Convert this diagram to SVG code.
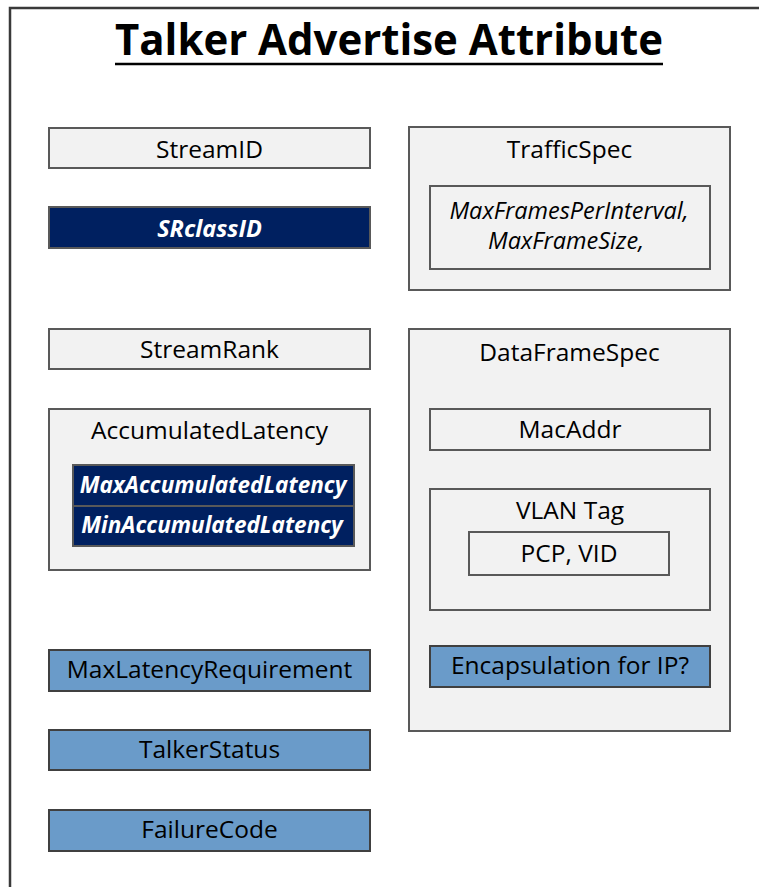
<svg xmlns="http://www.w3.org/2000/svg" width="759" height="887" viewBox="0 0 759 887">
<style>
.box{fill:#f2f2f2;stroke:#595959;stroke-width:2}
.inner{fill:#f2f2f2;stroke:#595959;stroke-width:2}
.navy{fill:#002060;stroke:#595959;stroke-width:2}
.blue{fill:#6a9bc9;stroke:#404040;stroke-width:2}
text{font-family:"Open Sans","Liberation Sans",sans-serif;font-size:24.5px;fill:#000;text-anchor:middle}
.it{font-style:italic;font-size:23.5px}
.bi{font-style:italic;font-weight:bold;fill:#fff;font-size:23.5px}
.bi.sm{font-size:22.5px}
.title{font-weight:bold;font-size:43px}
</style>
<rect width="759" height="887" fill="#fff"/>
<path d="M10,887 V8 H759" fill="none" stroke="#3a3a3a" stroke-width="2.5"/>
<g id="title"><text class="title" x="389" y="55" textLength="548" lengthAdjust="spacingAndGlyphs">Talker Advertise Attribute</text><line x1="115" y1="64" x2="663" y2="64" stroke="#000" stroke-width="2.5"/></g>
<g id="streamid"><rect class="box" x="49" y="128" width="321" height="40"/><text x="209.5" y="158">StreamID</text></g>
<g id="srclassid"><rect class="navy" x="49" y="207" width="321" height="41"/><text class="bi" x="209.5" y="237">SRclassID</text></g>
<g id="trafficspec"><rect class="box" x="409" y="127" width="321" height="163"/><text x="569.5" y="158">TrafficSpec</text>
<g id="trafficspec-params"><rect class="inner" x="430" y="186" width="280" height="83"/><text class="it" x="569" y="219">MaxFramesPerInterval,</text><text class="it" x="566" y="249">MaxFrameSize,</text></g></g>
<g id="streamrank"><rect class="box" x="49" y="329" width="321" height="40"/><text x="209.5" y="358">StreamRank</text></g>
<g id="accumulatedlatency"><rect class="box" x="49" y="409" width="321" height="161"/><text x="209.5" y="439">AccumulatedLatency</text>
<g id="maxacc"><rect class="navy" x="73" y="465" width="281" height="41"/><text class="bi sm" x="213" y="493">MaxAccumulatedLatency</text></g>
<g id="minacc"><rect class="navy" x="73" y="506" width="281" height="40"/><text class="bi sm" x="212" y="533">MinAccumulatedLatency</text></g></g>
<g id="dataframespec"><rect class="box" x="409" y="329" width="321" height="402"/><text x="569.5" y="361">DataFrameSpec</text>
<g id="macaddr"><rect class="inner" x="430" y="409" width="280" height="41"/><text x="570" y="438">MacAddr</text></g>
<g id="vlantag"><rect class="inner" x="430" y="489" width="280" height="121"/><text x="570" y="519">VLAN Tag</text>
<g id="pcpvid"><rect class="inner" x="469" y="532" width="200" height="43"/><text x="569" y="562">PCP, VID</text></g></g>
<g id="encap"><rect class="blue" x="430" y="646" width="280" height="41"/><text x="570" y="674">Encapsulation for IP?</text></g></g>
<g id="maxlatency"><rect class="blue" x="49" y="650" width="321" height="41"/><text x="209.5" y="678">MaxLatencyRequirement</text></g>
<g id="talkerstatus"><rect class="blue" x="49" y="730" width="321" height="40"/><text x="209.5" y="758">TalkerStatus</text></g>
<g id="failurecode"><rect class="blue" x="49" y="810" width="321" height="41"/><text x="209.5" y="838">FailureCode</text></g>
<g id="connectors"></g>
</svg>
